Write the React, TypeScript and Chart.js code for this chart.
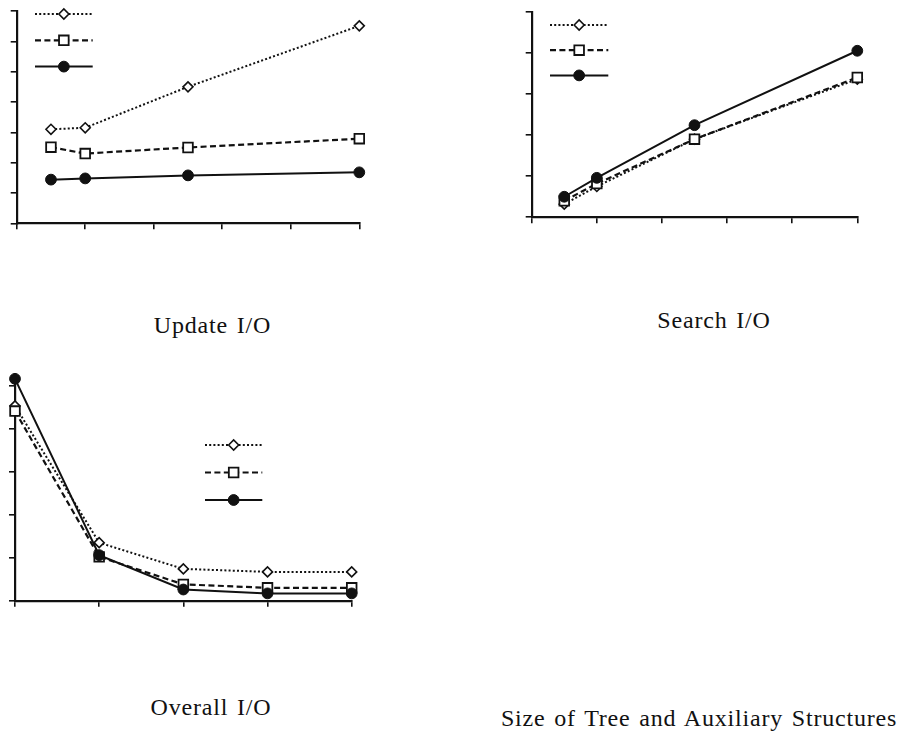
import React, { useEffect, useRef } from "react";
import { Chart, registerables } from "chart.js";
import { drawPoint } from "chart.js/helpers";

Chart.register(...registerables);

// Buffer sizes used for the update and search runs
const bufferSizes = [100, 200, 500, 1000];

// Update I/O
const updateDiamond = [3.1, 3.15, 4.5, 6.51];
const updateSquare = [2.51, 2.3, 2.5, 2.79];
const updateCircle = [1.44, 1.48, 1.58, 1.68];

// Search I/O
const searchDiamond = [0.32, 0.75, 1.9, 3.36];
const searchSquare = [0.4, 0.82, 1.9, 3.4];
const searchCircle = [0.5, 0.96, 2.24, 4.05];

// Overall I/O
const overallSteps = [0, 1, 2, 3, 4];
const overallDiamond = [4.53, 1.35, 0.74, 0.67, 0.67];
const overallSquare = [4.41, 1.02, 0.38, 0.3, 0.3];
const overallCircle = [5.16, 1.06, 0.26, 0.17, 0.17];

const INK = "#111";

// Line/marker styles: dotted + open diamond, dashed + open square, solid + filled circle
const styles = [
  {
    borderDash: [2, 2.2],
    borderWidth: 2,
    pointStyle: "rectRot",
    pointRadius: 5,
    pointBackgroundColor: "#fff",
    pointBorderWidth: 1.6,
    order: 3,
  },
  {
    borderDash: [6, 3.4],
    borderWidth: 2.2,
    pointStyle: "rect",
    pointRadius: 6.8,
    pointBackgroundColor: "#fff",
    pointBorderWidth: 1.8,
    order: 2,
  },
  {
    borderDash: [],
    borderWidth: 2,
    pointStyle: "circle",
    pointRadius: 5.4,
    pointBackgroundColor: INK,
    pointBorderWidth: 1,
    order: 1,
  },
];

// Legend made of line samples with their markers (no label text)
const sampleLegend = {
  id: "sampleLegend",
  afterDatasetsDraw(chart: any, _args: any, opts: any) {
    const { ctx } = chart;
    chart.data.datasets.forEach((ds: any, i: number) => {
      const y = opts.y + i * opts.gap;
      ctx.save();
      ctx.strokeStyle = ds.borderColor;
      ctx.lineWidth = ds.borderWidth;
      ctx.setLineDash(ds.borderDash || []);
      ctx.beginPath();
      ctx.moveTo(opts.x, y);
      ctx.lineTo(opts.x + opts.width, y);
      ctx.stroke();
      ctx.setLineDash([]);
      ctx.fillStyle = ds.pointBackgroundColor;
      ctx.strokeStyle = ds.pointBorderColor;
      ctx.lineWidth = ds.pointBorderWidth;
      drawPoint(
        ctx,
        {
          pointStyle: ds.pointStyle,
          radius: ds.pointRadius,
          rotation: 0,
          borderWidth: ds.pointBorderWidth,
        } as any,
        opts.x + opts.width / 2,
        y
      );
      ctx.restore();
    });
  },
};

type PanelProps = {
  left: number;
  top: number;
  width: number;
  height: number;
  padding: { left: number; top: number; right: number; bottom: number };
  xs: number[];
  series: number[][];
  xMax: number;
  xStep: number;
  yMax: number;
  legend: { x: number; y: number; width: number; gap: number };
};

function Panel(p: PanelProps) {
  const ref = useRef<HTMLCanvasElement>(null);
  useEffect(() => {
    const canvas = ref.current!;
    const axis = (min: number, max: number, step: number, fixed: (s: any) => void) => ({
      type: "linear" as const,
      min,
      max,
      ticks: { display: false, stepSize: step, includeBounds: false },
      grid: {
        drawOnChartArea: false,
        drawTicks: true,
        tickLength: 6,
        lineWidth: 1.6,
        color: INK,
      },
      border: { display: true, color: INK, width: 2.2 },
      afterFit: fixed,
    });
    const chart = new Chart(canvas, {
      type: "line",
      data: {
        datasets: p.series.map((vals, i) => ({
          data: vals.map((v, j) => ({ x: p.xs[j], y: v })),
          borderColor: INK,
          pointBorderColor: INK,
          fill: false,
          tension: 0,
          clip: false as any,
          ...styles[i],
        })) as any,
      },
      options: {
        responsive: false,
        animation: false,
        events: [],
        layout: { padding: p.padding },
        scales: {
          x: axis(0, p.xMax, p.xStep, (s: any) => {
            s.height = 8;
          }),
          y: axis(0, p.yMax, 1, (s: any) => {
            s.width = 8;
          }),
        },
        plugins: {
          legend: { display: false },
          tooltip: { enabled: false },
          title: { display: false },
          sampleLegend: p.legend,
        } as any,
      },
      plugins: [sampleLegend],
    });
    return () => chart.destroy();
  }, []);
  return (
    <canvas
      ref={ref}
      width={p.width}
      height={p.height}
      style={{ position: "absolute", left: p.left, top: p.top, width: p.width, height: p.height }}
    />
  );
}

function Caption({ text, cx, baseline }: { text: string; cx: number; baseline: number }) {
  return (
    <div
      style={{
        position: "absolute",
        left: cx - 250,
        top: baseline - 20,
        width: 500,
        textAlign: "center",
        fontFamily: '"Liberation Serif", "DejaVu Serif", "Times New Roman", Times, serif',
        fontSize: 24,
        lineHeight: "24px",
        letterSpacing: "0.8px",
        wordSpacing: "2px",
        color: "#111",
        whiteSpace: "nowrap",
      }}
    >
      {text}
    </div>
  );
}

export default function App() {
  return (
    <div
      style={{
        position: "absolute",
        left: 0,
        top: 0,
        width: 914,
        height: 739,
        background: "#fff",
        overflow: "hidden",
      }}
    >
      <Panel
        left={0}
        top={0}
        width={380}
        height={240}
        padding={{ left: 8.7, top: 11, right: 20.7, bottom: 8.7 }}
        xs={bufferSizes}
        series={[updateDiamond, updateSquare, updateCircle]}
        xMax={1000}
        xStep={200}
        yMax={7}
        legend={{ x: 35, y: 14, width: 57.7, gap: 26.3 }}
      />
      <Panel
        left={500}
        top={0}
        width={414}
        height={240}
        padding={{ left: 23.7, top: 11.7, right: 56.7, bottom: 14.7 }}
        xs={bufferSizes}
        series={[searchDiamond, searchSquare, searchCircle]}
        xMax={1000}
        xStep={200}
        yMax={5}
        legend={{ x: 50, y: 25, width: 58.3, gap: 25.2 }}
      />
      <Panel
        left={0}
        top={360}
        width={380}
        height={260}
        padding={{ left: 7, top: 17.1, right: 28.3, bottom: 11.3 }}
        xs={overallSteps}
        series={[overallDiamond, overallSquare, overallCircle]}
        xMax={4}
        xStep={1}
        yMax={5.2}
        legend={{ x: 205, y: 85, width: 57.3, gap: 27.5 }}
      />
      <Caption text="Update I/O" cx={212.5} baseline={333} />
      <Caption text="Search I/O" cx={714} baseline={328} />
      <Caption text="Overall I/O" cx={211} baseline={715} />
      <Caption text="Size of Tree and Auxiliary Structures" cx={699} baseline={726} />
    </div>
  );
}
